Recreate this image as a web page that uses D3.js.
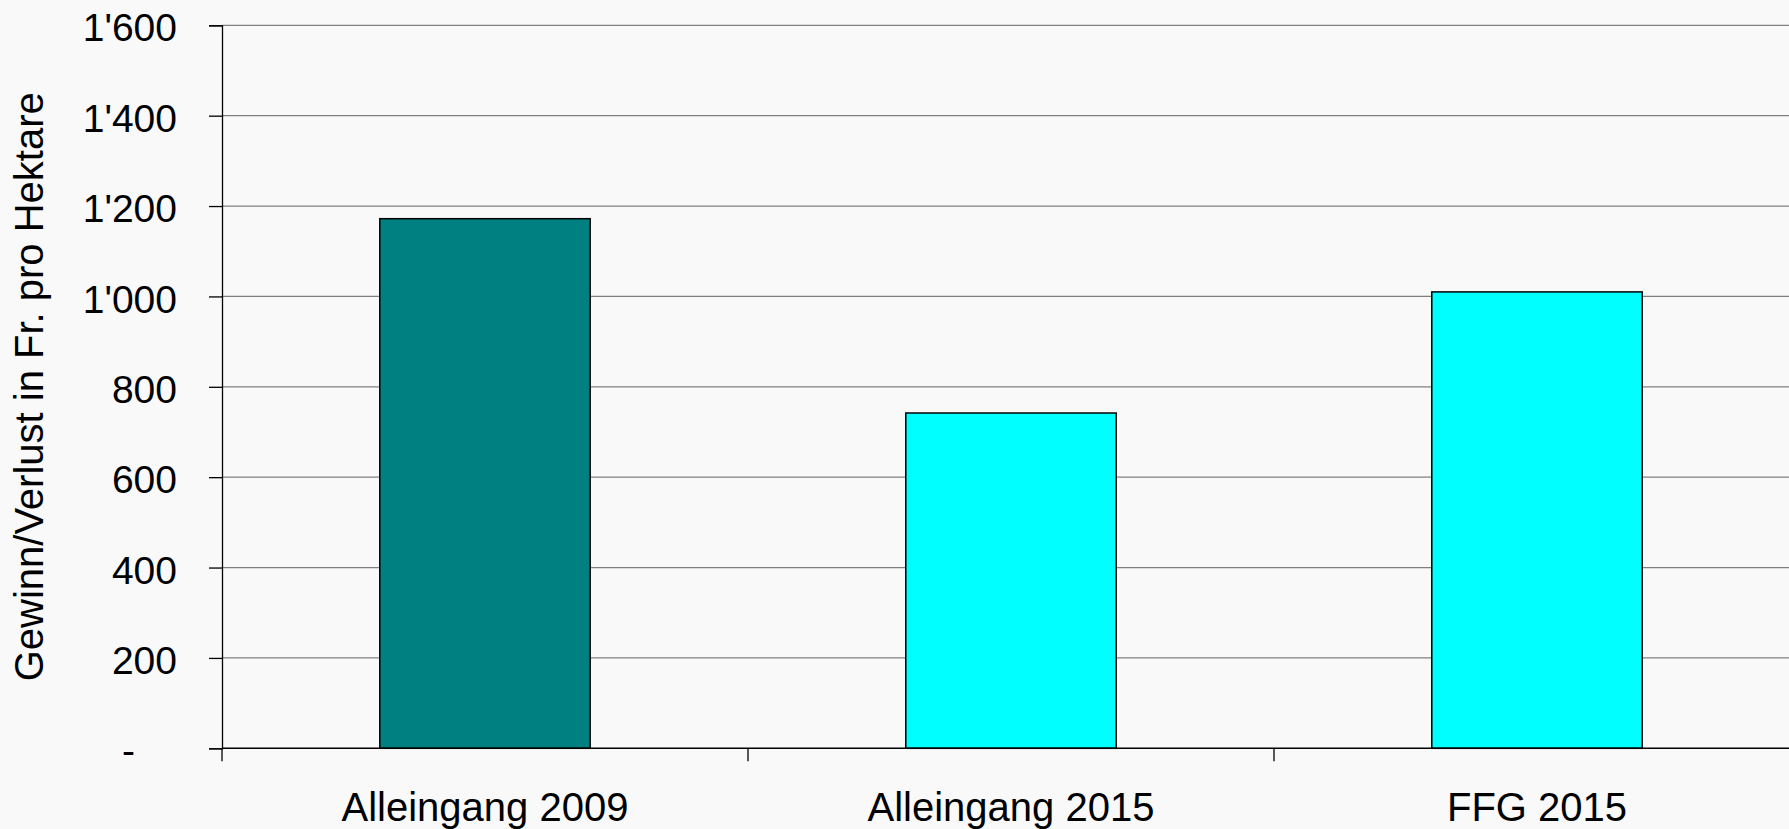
<!DOCTYPE html>
<html>
<head>
<meta charset="utf-8">
<script src="https://cdn.jsdelivr.net/npm/d3@7"></script>
<style>
  html, body { margin: 0; padding: 0; background: #f9f9f9; }
  svg { display: block; }
  text { font-family: "Liberation Sans", Arial, sans-serif; fill: #000; }
</style>
</head>
<body>
<div class="chart"></div>
<script>
// data
var categories = ["Alleingang 2009", "Alleingang 2015", "FFG 2015"];
var values = [1172, 742, 1010];
var barColors = ["#008080", "#00ffff", "#00ffff"];
var yTicks = [0, 200, 400, 600, 800, 1000, 1200, 1400, 1600];
var yTitle = "Gewinn/Verlust in Fr. pro Hektare";

var W = 1789, H = 829;
var plot = { left: 222, right: 1800, top: 25.3, bottom: 748.3 };

var svg = d3.select("div.chart").append("svg")
    .attr("width", W)
    .attr("height", H);

var x = d3.scaleBand()
    .domain(categories)
    .range([plot.left, plot.right])
    .paddingInner(0.6)
    .paddingOuter(0.3);

var y = d3.scaleLinear()
    .domain([0, 1600])
    .range([plot.bottom, plot.top]);

// thousands separator is an apostrophe, zero shown as "-"
var fmt = function(d) {
    if (d === 0) return "-";
    return d3.format(",")(d).replace(/,/g, "'");
};

// gridlines
svg.append("g").selectAll("line.grid")
    .data(yTicks.filter(function(d) { return d > 0; }))
    .enter().append("line")
    .attr("class", "grid")
    .attr("x1", plot.left)
    .attr("x2", W)
    .attr("y1", function(d) { return y(d); })
    .attr("y2", function(d) { return y(d); })
    .attr("stroke", "#808080")
    .attr("stroke-width", 1.3);

// y axis
var yAxis = d3.axisLeft(y).tickValues(yTicks).tickSize(13).tickPadding(32).tickFormat(fmt);
var gy = svg.append("g")
    .attr("transform", "translate(" + plot.left + ",0)")
    .call(yAxis);
gy.select(".domain").attr("stroke", "#000").attr("stroke-width", 1.3);
gy.selectAll(".tick line").attr("stroke", "#000").attr("stroke-width", 1.3);
gy.selectAll(".tick text")
    .style("font-size", "39px")
    .attr("dy", "0.4em")
    .attr("dx", function(d) { return d === 0 ? -42 : 0; });

// bars
svg.append("g").selectAll("rect.bar")
    .data(values)
    .enter().append("rect")
    .attr("class", "bar")
    .attr("x", function(d, i) { return x(categories[i]); })
    .attr("y", function(d) { return y(d); })
    .attr("width", x.bandwidth())
    .attr("height", function(d) { return y(0) - y(d); })
    .attr("fill", function(d, i) { return barColors[i]; })
    .attr("stroke", "#000")
    .attr("stroke-width", 1.5);

// x axis line and category boundary ticks
svg.append("line")
    .attr("x1", plot.left)
    .attr("x2", W)
    .attr("y1", y(0))
    .attr("y2", y(0))
    .attr("stroke", "#000")
    .attr("stroke-width", 1.5);

var step = x.step();
svg.append("g").selectAll("line.xtick")
    .data(d3.range(categories.length + 1))
    .enter().append("line")
    .attr("class", "xtick")
    .attr("x1", function(i) { return plot.left + i * step; })
    .attr("x2", function(i) { return plot.left + i * step; })
    .attr("y1", y(0))
    .attr("y2", y(0) + 13)
    .attr("stroke", "#000")
    .attr("stroke-width", 1.3);

svg.append("g").selectAll("text.xlabel")
    .data(categories)
    .enter().append("text")
    .attr("class", "xlabel")
    .attr("x", function(d) { return x(d) + x.bandwidth() / 2; })
    .attr("y", 821)
    .attr("text-anchor", "middle")
    .style("font-size", "40px")
    .text(function(d) { return d; });

// y title
svg.append("text")
    .attr("transform", "translate(29," + ((plot.top + plot.bottom) / 2) + ") rotate(-90)")
    .attr("text-anchor", "middle")
    .attr("dy", "0.36em")
    .style("font-size", "40px")
    .text(yTitle);
</script>
</body>
</html>
